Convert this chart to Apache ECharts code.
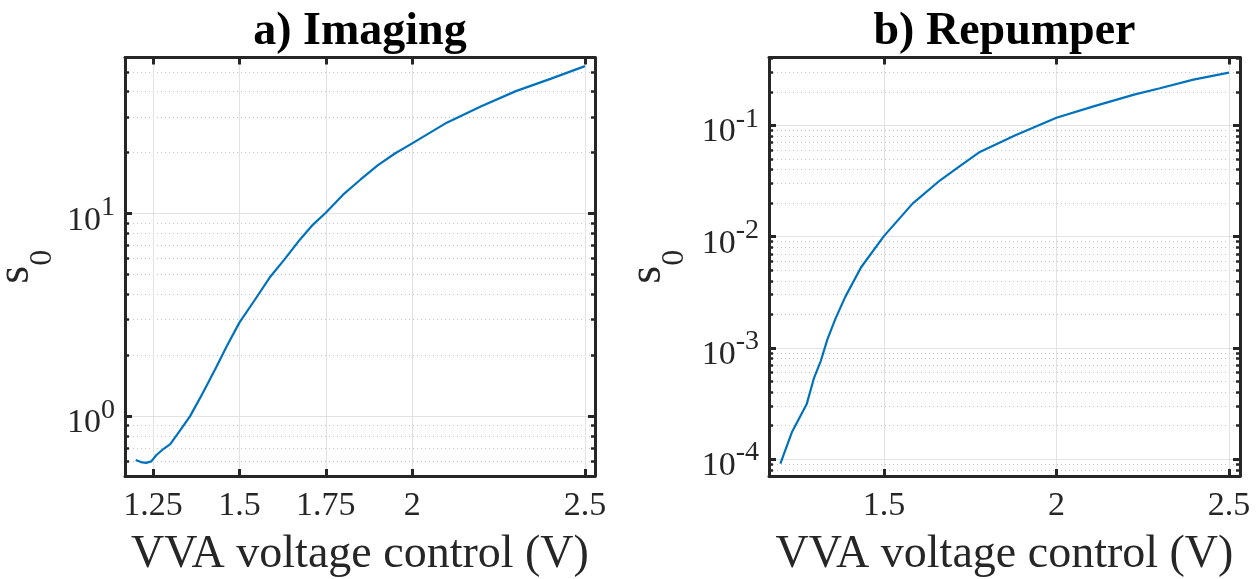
<!DOCTYPE html>
<html><head><meta charset="utf-8">
<script src="https://cdn.jsdelivr.net/npm/echarts@6/dist/echarts.min.js"></script>
<style>html,body{margin:0;padding:0;background:#fff}#c{width:1260px;height:579px}</style>
</head><body><div id="c"></div>
<script>
// ---- data ----
const imagingV = [1.20,1.215,1.23,1.245,1.26,1.28,1.30,1.33,1.357,1.386,1.41,1.434,1.463,1.50,1.545,1.59,1.63,1.675,1.713,1.75,1.80,1.85,1.90,1.95,2.00,2.10,2.20,2.30,2.40,2.50];
const imagingS = [0.61,0.595,0.59,0.60,0.645,0.69,0.73,0.86,1.0,1.23,1.47,1.76,2.21,2.9,3.76,4.9,5.93,7.44,8.83,10.1,12.4,14.7,17.3,19.8,22.2,28.1,33.9,40.2,46.2,53.4];
const repumperV = [1.20,1.234,1.276,1.297,1.317,1.337,1.36,1.388,1.434,1.50,1.583,1.663,1.72,1.778,1.881,2.00,2.11,2.225,2.30,2.397,2.50];
const repumperS = [9.1e-5,1.76e-4,3.1e-4,5.3e-4,7.6e-4,1.21e-3,1.84e-3,2.87e-3,5.3e-3,0.0101,0.0198,0.0321,0.043,0.0577,0.0815,0.117,0.149,0.189,0.216,0.258,0.298];
const titles = ['a) Imaging', 'b) Repumper'];
const xTicksA = [1.25, 1.5, 1.75, 2, 2.5];
const xTicksB = [1.5, 2, 2.5];
const xLimA = [1.169, 2.529];
const xLimB = [1.167, 2.532];
const yLimA = [0.508, 58.9];
const yLimB = [7.03e-5, 0.408];
const xName = 'VVA voltage control (V)';

// ---- styling / layout ----
const FF = "'Liberation Serif','Times New Roman',serif";
const AX = '#262626';
const grids = [
  {left:125, right:665, top:57.5, bottom:103},
  {left:769, right:20, top:57.5, bottom:103}
];
const panels = [
  {V:imagingV, S:imagingS, xt:xTicksA, xl:xLimA, yl:yLimA, title:titles[0], nameGap:66},
  {V:repumperV, S:repumperS, xt:xTicksB, xl:xLimB, yl:yLimB, title:titles[1], nameGap:78}
];

function minorValues(lim){
  const out=[];
  const e0=Math.floor(Math.log10(lim[0])), e1=Math.ceil(Math.log10(lim[1]));
  for(let e=e0;e<=e1;e++){
    for(let m=2;m<=9;m++){
      const v=m*Math.pow(10,e);
      if(v>lim[0]&&v<lim[1]) out.push(Math.log10(v));
    }
  }
  return out;
}
function powLabel(v){
  const e=Math.log10(v), r=Math.round(e);
  if(Math.abs(e-r)>1e-6) return '';
  return '{b|10}{s|'+r+'}';
}
const labRich = {
  b:{fontSize:34, lineHeight:48, verticalAlign:'bottom', fontFamily:FF, color:AX},
  s:{fontSize:28, lineHeight:28, verticalAlign:'top', padding:[4,0,0,0], fontFamily:FF, color:AX}
};
const axLine = {onZero:false, lineStyle:{color:AX, width:3}};
const tickStyle = {color:AX, width:3};

const title=[], xAxis=[], yAxis=[], series=[];
panels.forEach((p,i)=>{
  const g = grids[i];
  const cx = g.left + (1260 - g.left - g.right)/2;
  title.push({text:p.title, left:cx, top:9, textAlign:'center', padding:0,
    textStyle:{fontFamily:FF, fontWeight:'bold', fontSize:46, color:'#000'}});
  xAxis.push({type:'value', gridIndex:i, position:'bottom', min:p.xl[0], max:p.xl[1],
    axisLine:axLine,
    axisTick:{inside:true, length:7, customValues:p.xt, lineStyle:tickStyle},
    axisLabel:{customValues:p.xt, formatter:v=>String(+(+v).toFixed(2)), margin:13, fontSize:34, fontFamily:FF, color:AX},
    splitLine:{show:true, lineStyle:{color:'#e2e2e2', width:1}},
    name:xName, nameLocation:'middle', nameGap:56,
    nameTextStyle:{fontSize:46, fontFamily:FF, color:AX}});
  xAxis.push({type:'value', gridIndex:i, position:'top', min:p.xl[0], max:p.xl[1],
    axisLine:axLine,
    axisTick:{inside:true, length:7, customValues:p.xt, lineStyle:tickStyle},
    axisLabel:{show:false}, splitLine:{show:false}});
  const minors = minorValues(p.yl);
  const lmin = Math.log10(p.yl[0]), lmax = Math.log10(p.yl[1]);
  yAxis.push({type:'log', logBase:10, gridIndex:i, position:'left', min:p.yl[0], max:p.yl[1],
    axisLine:axLine,
    axisTick:{inside:true, length:7, lineStyle:tickStyle},
    axisLabel:{formatter:powLabel, margin:10, rich:labRich},
    splitLine:{show:true, lineStyle:{color:'#e2e2e2', width:1}},
    minorTick:{show:false}, minorSplitLine:{show:false},
    name:'{s|s}{sub|0}', nameLocation:'middle', nameRotate:90, nameGap:p.nameGap,
    nameTextStyle:{rich:{
      s:{fontSize:46, lineHeight:66, verticalAlign:'top', fontFamily:FF, color:AX},
      sub:{fontSize:32, lineHeight:32, verticalAlign:'bottom', fontFamily:FF, color:AX}
    }}});
  yAxis.push({type:'log', logBase:10, gridIndex:i, position:'right', min:p.yl[0], max:p.yl[1],
    axisLine:axLine,
    axisTick:{inside:true, length:7, lineStyle:tickStyle},
    axisLabel:{show:false}, splitLine:{show:false}});
  yAxis.push({type:'value', gridIndex:i, position:'left', min:lmin, max:lmax,
    axisLine:{show:false, onZero:false},
    axisTick:{inside:true, length:4, customValues:minors, lineStyle:{color:AX, width:2.5}},
    axisLabel:{show:false},
    splitLine:{show:true, lineStyle:{color:'#c4c4c4', width:1, type:[1,3]}}});
  yAxis.push({type:'value', gridIndex:i, position:'right', min:lmin, max:lmax,
    axisLine:{show:false, onZero:false},
    axisTick:{inside:true, length:4, customValues:minors, lineStyle:{color:AX, width:2.5}},
    axisLabel:{show:false}, splitLine:{show:false}});
  series.push({type:'line', xAxisIndex:i*2, yAxisIndex:i*4,
    data:p.V.map((v,k)=>[v,p.S[k]]), showSymbol:false, symbol:'none',
    lineStyle:{color:'#0072BD', width:2.2}, z:5});
});

const chart = echarts.init(document.getElementById('c'), null, {renderer:'canvas'});
chart.setOption({
  backgroundColor:'#fff', animation:false,
  title, grid:grids.map(g=>Object.assign({outerBoundsMode:'none', containLabel:false}, g)),
  xAxis, yAxis, series
});
</script></body></html>
